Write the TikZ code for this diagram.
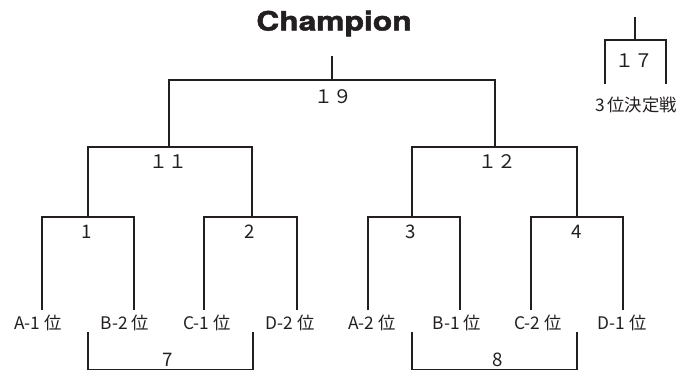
\documentclass[tikz,border=0pt]{standalone}
\usepackage{fontspec}
\newfontfamily\champfont{texgyreheros-bold.otf}[FakeBold=1.6]
\newfontfamily\jpfont{Noto Sans CJK JP}
\definecolor{ink}{RGB}{35,31,32}
\tikzset{
  num/.style={font=\jpfont\fontsize{14}{14}\selectfont, anchor=base, inner sep=0pt},
  team/.style={font=\jpfont\fontsize{13}{13}\selectfont, anchor=base, inner sep=0pt}
}
\begin{document}
\begin{tikzpicture}[x=0.75pt,y=-0.75pt,line width=1.4pt,color=ink]
        \useasboundingbox (0,0) rectangle (677,371);
        \node[anchor=base, inner sep=0pt, font=\champfont\fontsize{20}{20}\selectfont] (champ) at (334,30.5) {\scalebox{1.19}[1]{Champion}};
        % final
        \draw (332,56) -- (332,80);
        \draw (169,147) -- (169,80) -- (495,80) -- (495,147);
        \node[num] (m19) at (333,103) {１９};
        % semi finals
        \draw (88,217) -- (88,147) -- (252,147) -- (252,217);
        \node[num] (m11) at (168,168) {１１};
        \draw (412,217) -- (412,147) -- (577,147) -- (577,217);
        \node[num] (m12) at (497,168) {１２};
        % first round
        \draw (42,310) -- (42,217) -- (134,217) -- (134,310);
        \node[num] (m1) at (87,238) {1};
        \draw (204,310) -- (204,217) -- (297,217) -- (297,310);
        \node[num] (m2) at (250,238) {2};
        \draw (368,310) -- (368,217) -- (460,217) -- (460,310);
        \node[num] (m3) at (411,238) {3};
        \draw (531,310) -- (531,217) -- (623,217) -- (623,310);
        \node[num] (m4) at (577,238) {4};
        % teams
        \node[team] (a1) at (38,329) {A-1 位};
        \node[team] (b2) at (125,329) {B-2 位};
        \node[team] (c1) at (207,329) {C-1 位};
        \node[team] (d2) at (290,329) {D-2 位};
        \node[team] (a2) at (372,329) {A-2 位};
        \node[team] (b1) at (457,329) {B-1 位};
        \node[team] (c2) at (538,329) {C-2 位};
        \node[team] (d1) at (622,329) {D-1 位};
        % lower brackets
        \draw (88,332) -- (88,369.5) -- (253,369.5) -- (253,332);
        \node[num] (m7) at (168,366) {7};
        \draw (412,332) -- (412,369.5) -- (577,369.5) -- (577,332);
        \node[num] (m8) at (498,366) {8};
        % third place
        \draw (635,17) -- (635,40);
        \draw (605,84) -- (605,40) -- (666,40) -- (666,84);
        \node[num] (m17) at (634,67) {１７};
        \node[team] (third) at (636,111) {3\,位決定戦};
    \end{tikzpicture}
\end{document}
